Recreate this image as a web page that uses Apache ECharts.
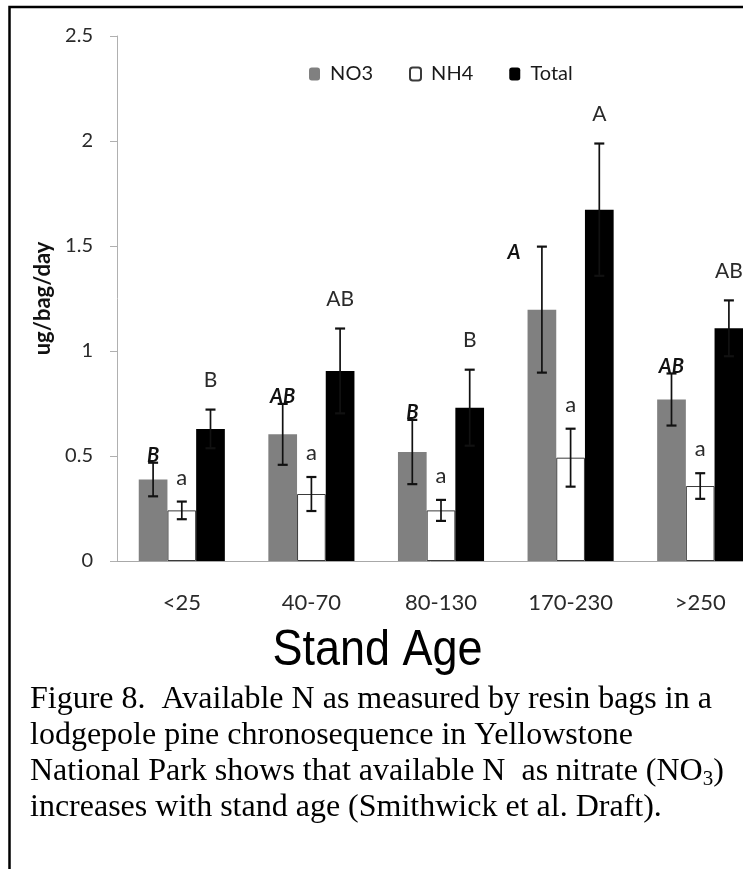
<!DOCTYPE html>
<html>
<head>
<meta charset="utf-8">
<script src="https://cdn.jsdelivr.net/npm/echarts@6/dist/echarts.min.js"></script>
<style>
html,body{margin:0;padding:0;background:#fff;overflow:hidden}
#c{width:743px;height:869px}
</style>
</head>
<body>
<div id="c"></div>
<script>
// ---- data ----
const categories = ['<25', '40-70', '80-130', '170-230', '>250'];
const seriesNames = ['NO3', 'NH4', 'Total'];
const no3 = [0.388, 0.603, 0.519, 1.197, 0.769];
const no3Err = [0.080, 0.145, 0.153, 0.300, 0.124];
const nh4 = [0.241, 0.319, 0.241, 0.492, 0.357];
const nh4Err = [0.042, 0.081, 0.050, 0.138, 0.061];
const total = [0.629, 0.905, 0.730, 1.673, 1.108];
const totalErr = [0.092, 0.202, 0.181, 0.315, 0.133];
const no3Letters = ['B', 'AB', 'B', 'A', 'AB'];
const nh4Letters = ['a', 'a', 'a', 'a', 'a'];
const totalLetters = ['B', 'AB', 'B', 'A', 'AB'];
const yTicks = [0, 0.5, 1, 1.5, 2, 2.5];
const yTitle = 'ug/bag/day';
const xTitle = 'Stand Age';
const captionLines = [
  'Figure 8.  Available N as measured by resin bags in a',
  'lodgepole pine chronosequence in Yellowstone',
  'National Park shows that available N  as nitrate (NO{sub|3})',
  'increases with stand age (Smithwick et al. Draft).'
];

// ---- chart ----
const BAR_W = 28.7;
const chart = echarts.init(document.getElementById('c'), null, {renderer: 'canvas'});

function errLetterSeries(name, idx, values, errs, letters, font, gap, nudge) {
  return {
    type: 'custom',
    name: name + ' error',
    silent: true,
    z: 5,
    data: values.map((v, i) => [i, v, errs[i]]),
    encode: {x: 0, y: 1},
    renderItem: function (params, api) {
      const i = api.value(0), v = api.value(1), e = api.value(2);
      const base = api.coord([i, v]);
      const x = base[0] + (idx - 1) * BAR_W;
      const yTop = api.coord([i, v + e])[1];
      const yBot = api.coord([i, v - e])[1];
      const n = (nudge && nudge[i]) || [0, 0];
      const lineStyle = {stroke: '#111', lineWidth: 1.7};
      const capStyle = {stroke: '#111', lineWidth: 2.2};
      return {
        type: 'group',
        children: [
          {type: 'line', shape: {x1: x, y1: yTop, x2: x, y2: yBot}, style: lineStyle},
          {type: 'line', shape: {x1: x - 5, y1: yTop, x2: x + 5, y2: yTop}, style: capStyle},
          {type: 'line', shape: {x1: x - 5, y1: yBot, x2: x + 5, y2: yBot}, style: capStyle},
          {type: 'text', style: Object.assign({
            text: letters[params.dataIndex],
            x: x + n[0], y: yTop - gap + n[1],
            align: 'center', verticalAlign: 'middle'
          }, font)}
        ]
      };
    }
  };
}

const letterFontPlain = {fontFamily: 'Lato', fontSize: 21, fill: '#2a2a2a'};
const letterFontSmall = {fontFamily: 'Lato', fontSize: 22, fill: '#2a2a2a'};
const letterFontBold = {fontFamily: 'Lato', fontSize: 20, fontWeight: 'bold', fontStyle: 'italic', fill: '#111'};

const option = {
  animation: false,
  backgroundColor: '#fff',
  legend: {
    data: seriesNames,
    left: 304,
    top: 59,
    itemWidth: 11,
    itemHeight: 13,
    itemGap: 36,
    formatter: n => ' ' + n,
    textStyle: {fontFamily: 'Lato', fontSize: 20, color: '#1a1a1a'}
  },
  grid: {left: 117, right: -22, top: 36, bottom: 308, containLabel: false, outerBoundsMode: 'none'},
  xAxis: {
    type: 'category',
    data: categories,
    axisLine: {lineStyle: {color: '#a8a8a8', width: 1}},
    axisTick: {length: 10, lineStyle: {color: '#a8a8a8'}},
    axisLabel: {fontFamily: 'Lato', fontSize: 22, color: '#2a2a2a', margin: 31}
  },
  yAxis: {
    type: 'value',
    min: yTicks[0],
    max: yTicks[yTicks.length - 1],
    interval: yTicks[1] - yTicks[0],
    name: yTitle,
    nameLocation: 'middle',
    nameRotate: 90,
    nameGap: 56,
    nameTextStyle: {fontFamily: 'Lato', fontSize: 22, fontWeight: 'bold', color: '#111'},
    axisLine: {show: true, lineStyle: {color: '#b0b0b0', width: 1}},
    axisTick: {show: true, length: 7, lineStyle: {color: '#b0b0b0'}},
    axisLabel: {fontFamily: 'Lato', fontSize: 20, color: '#2a2a2a', margin: 24},
    splitLine: {show: false}
  },
  series: [
    {name: 'NO3', type: 'bar', data: no3, barWidth: BAR_W, barGap: '0%',
     itemStyle: {color: '#808080'}},
    {name: 'NH4', type: 'bar', data: nh4, barWidth: BAR_W, barGap: '0%',
     itemStyle: {color: '#ffffff', borderColor: '#3a3a3a', borderWidth: 1}},
    {name: 'Total', type: 'bar', data: total, barWidth: BAR_W, barGap: '0%',
     itemStyle: {color: '#000000'}},
    errLetterSeries('NO3', 0, no3, no3Err, no3Letters, letterFontBold, 7, {3: [-28, 13]}),
    errLetterSeries('NH4', 1, nh4, nh4Err, nh4Letters, letterFontSmall, 24),
    errLetterSeries('Total', 2, total, totalErr, totalLetters, letterFontPlain, 29)
  ],
  graphic: [
    {type: 'rect', silent: true, z: 100,
     shape: {x: 9.5, y: 7, width: 900, height: 1000},
     style: {fill: 'none', stroke: '#000', lineWidth: 2.5}},
    {type: 'text', silent: true, x: 377.5, y: 676, scaleY: 1.12,
     style: {text: xTitle, fontFamily: 'Liberation Sans, Arial, sans-serif', fontSize: 45,
             fill: '#000', align: 'center', verticalAlign: 'bottom'}},
  ].concat(captionLines.map((t, k) => ({
    type: 'text', silent: true, x: 30, y: 700 + k * 36,
    style: {
      text: t, fontFamily: 'Liberation Serif, Times New Roman, serif', fontSize: 32,
      fill: '#000', align: 'left', verticalAlign: 'middle',
      rich: {sub: {fontFamily: 'Liberation Serif, Times New Roman, serif', fontSize: 21,
                   fill: '#000', padding: [14, 0, 0, 0]}}
    }
  })))
};
chart.setOption(option);
</script>
</body>
</html>
